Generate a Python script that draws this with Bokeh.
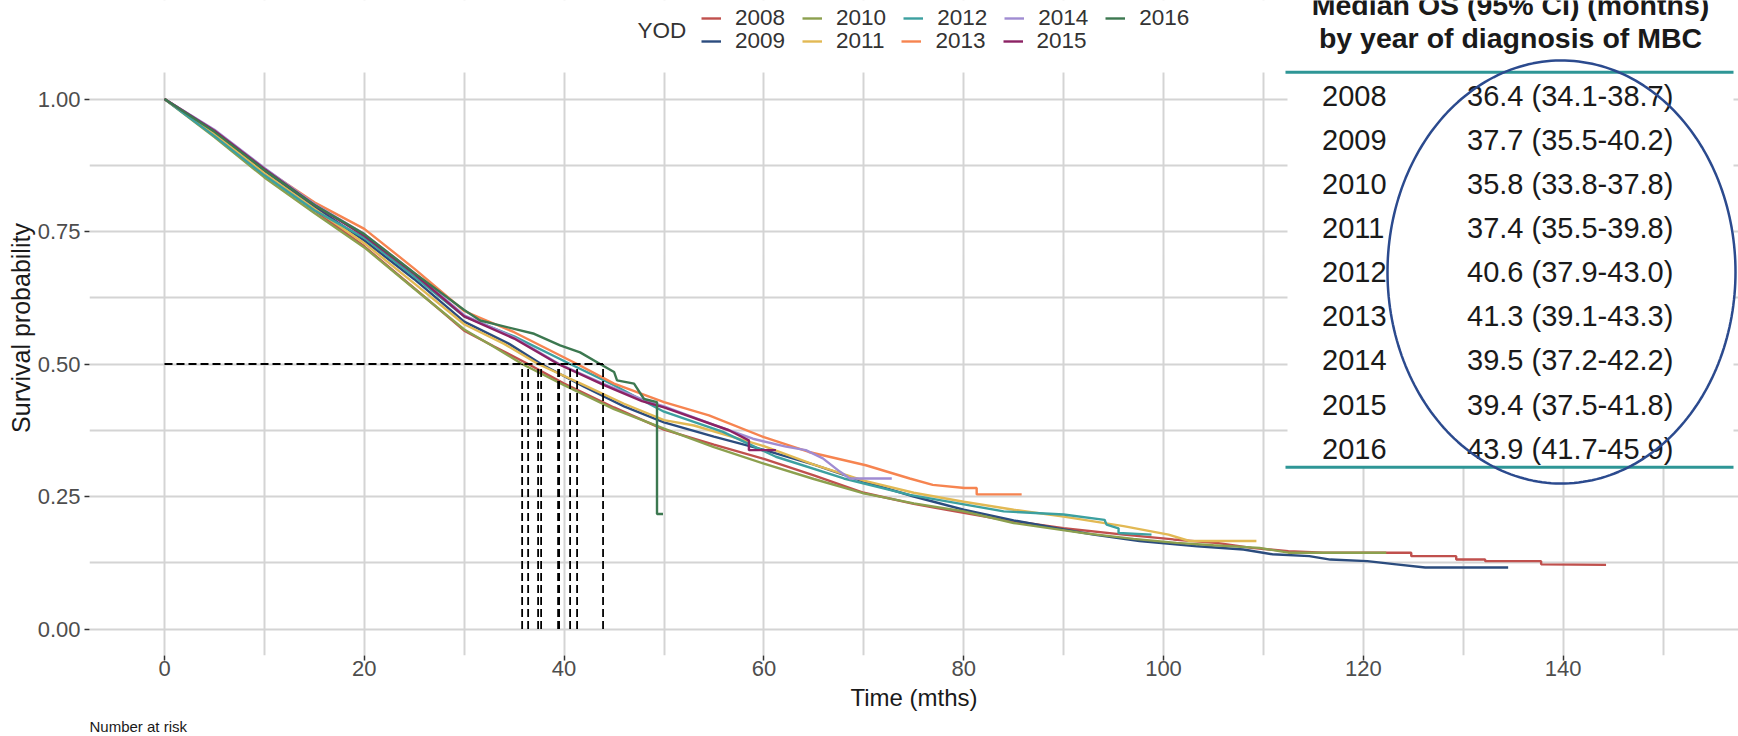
import numpy as np
from bokeh.plotting import figure
from bokeh.models import (Range1d, FixedTicker, NumeralTickFormatter, Legend, LegendItem,
                          Label, BoxAnnotation, PolyAnnotation, Title)
from bokeh.embed import file_html
from bokeh.resources import INLINE

# ---------------- data ----------------
years = ["2008", "2009", "2010", "2011", "2012", "2013", "2014", "2015", "2016"]

t_2008 = [0, 5, 10, 15, 20, 25, 30, 33, 36.4, 40, 45, 50, 55, 60, 65, 70, 75, 80, 84, 90, 96, 101, 105.5,
          108.8, 112.5, 116, 124.8, 124.8, 129.3, 129.3, 132.2, 132.2, 137.8, 137.8, 144.3]
s_2008 = [1, .932, .858, .79, .722, .643, .563, .533, .5, .463, .418, .376, .348, .321, .29, .257, .236, .219,
          .206, .19, .178, .169, .162, .153, .147, .144, .144, .1375, .1375, .131, .131, .128, .128, .122, .121]

t_2009 = [0, 5, 10, 15, 20, 25, 30, 34.5, 37.7, 42, 46, 50, 55, 60, 65, 70, 75, 80, 85, 89.3, 93, 97.6,
          103.4, 108, 110.9, 114.6, 116.7, 120.4, 123.3, 126.2, 134.5]
s_2009 = [1, .936, .864, .797, .733, .66, .58, .538, .5, .457, .42, .39, .363, .338, .31, .278, .25, .225,
          .205, .19, .178, .166, .156, .15, .141, .1375, .131, .128, .122, .116, .116]

t_2010 = [0, 5, 10, 15, 20, 25, 30, 33, 35.8, 40, 45, 50, 55, 60, 65, 70, 75, 80, 85, 92, 97, 101.3,
          105, 109.6, 112.5, 122.3]
s_2010 = [1, .928, .852, .785, .72, .642, .565, .532, .5, .46, .415, .378, .343, .312, .283, .256, .237,
          .222, .2, .181, .17, .1625, .158, .153, .144, .144]

t_2011 = [0, 5, 10, 15, 20, 25, 30, 34, 37.4, 42, 46, 50, 53, 60, 65, 70, 75, 80, 85, 90, 96, 100.5,
          102.6, 109.3]
s_2011 = [1, .934, .86, .793, .728, .652, .575, .538, .5, .46, .425, .394, .384, .345, .31, .28, .257, .24,
          .225, .212, .194, .178, .166, .166]

t_2012 = [0, 5, 10, 15, 20, 25, 30, 35, 40.6, 45, 50, 55.9, 61.2, 68, 74.6, 81.3, 84, 90, 94.1, 94.3,
          95.5, 95.5, 98.8]
s_2012 = [1, .93, .856, .79, .738, .665, .59, .552, .5, .46, .41, .372, .325, .284, .253, .231, .222, .216,
          .206, .197, .19, .181, .178]

t_2013 = [0, 5, 10, 15, 20, 25, 30, 35, 41.3, 45, 50, 54.5, 60, 64.5, 70.2, 74.6, 76.9, 80.1, 81.3,
          81.3, 85.8]
s_2013 = [1, .94, .868, .805, .755, .68, .6, .56, .5, .463, .428, .403, .362, .334, .309, .284, .272, .266,
          .266, .254, .254]

t_2014 = [0, 5, 10, 15, 20, 25, 30, 35, 39.5, 44, 48, 50, 55, 58.9, 62.2, 64.2, 65.9, 67.6, 68.6, 72.8]
s_2014 = [1, .942, .87, .802, .745, .672, .592, .55, .5, .462, .432, .42, .385, .359, .344, .3375, .322,
          .297, .284, .284]

t_2015 = [0, 5, 10, 15, 20, 25, 30, 35, 39.4, 44, 47.8, 50, 56.5, 58.5, 58.5, 61.2]
s_2015 = [1, .94, .868, .8, .742, .67, .59, .548, .5, .46, .43, .418, .375, .356, .3375, .3375]

t_2016 = [0, 5, 10, 15, 20, 25, 30, 31.6, 37, 39.6, 41.6, 43.6, 45, 45.3, 47, 48, 49.3, 49.3, 49.9]
s_2016 = [1, .938, .866, .8, .745, .672, .602, .582, .557, .535, .522, .5, .485, .469, .463, .434, .428,
          .217, .217]

median_os = [36.4, 37.7, 35.8, 37.4, 40.6, 41.3, 39.5, 39.4, 43.9]
ci_low = [34.1, 35.5, 33.8, 35.5, 37.9, 39.1, 37.2, 37.5, 41.7]
ci_high = [38.7, 40.2, 37.8, 39.8, 43.0, 43.3, 42.2, 41.8, 45.9]

x_ticks = [0, 20, 40, 60, 80, 100, 120, 140]
x_minor = [10, 30, 50, 70, 90, 110, 130, 150]
y_ticks = [0, 0.25, 0.5, 0.75, 1.0]
y_minor = [0.125, 0.375, 0.625, 0.875]

curves_t = [t_2008, t_2009, t_2010, t_2011, t_2012, t_2013, t_2014, t_2015, t_2016]
curves_s = [s_2008, s_2009, s_2010, s_2011, s_2012, s_2013, s_2014, s_2015, s_2016]

# ---------------- style / layout ----------------
colors = ["#C0504D", "#2B4C7E", "#8CA04E", "#E2B954", "#3CA0A0", "#F68450", "#A08CD2", "#8C2264", "#3C7850"]
FONT = "Liberation Sans"
W, H = 1738, 736
FRAME_LEFT, FRAME_BOTTOM = 89, 655
X0_PX, PX_PER_MONTH = 164.0, 9.99        # pixel of t=0, pixels per month
Y0_PX, PX_PER_UNIT = 628.5, 530.0        # pixel of S=0, pixels per unit survival


def tx(px):
    return (px - X0_PX) / PX_PER_MONTH


def sy(py):
    return (Y0_PX - py) / PX_PER_UNIT


p = figure(width=W, height=H, output_backend="svg", toolbar_location=None,
           x_range=Range1d(tx(FRAME_LEFT), tx(W)), y_range=Range1d(sy(FRAME_BOTTOM), sy(0)),
           min_border_left=FRAME_LEFT, min_border_right=0, min_border_top=0,
           min_border_bottom=H - FRAME_BOTTOM)
p.outline_line_color = None
p.background_fill_color = "white"

p.xaxis.ticker = FixedTicker(ticks=x_ticks, minor_ticks=x_minor)
p.yaxis.ticker = FixedTicker(ticks=y_ticks, minor_ticks=y_minor)
p.yaxis.formatter = NumeralTickFormatter(format="0.00")
p.yaxis.bounds = (-0.05, 1.05)
for g in (p.xgrid, p.ygrid):
    g.grid_line_color = "#d4d4d4"
    g.grid_line_width = 2
    g.minor_grid_line_color = "#d4d4d4"
    g.minor_grid_line_width = 2
for ax in (p.xaxis, p.yaxis):
    ax.axis_line_color = None
    ax.minor_tick_line_color = None
    ax.major_tick_out = 5
    ax.major_tick_in = 0
    ax.major_tick_line_color = "#333333"
    ax.major_tick_line_width = 1.5
    ax.major_label_text_font = FONT
    ax.major_label_text_font_size = "22px"
    ax.major_label_text_color = "#4d4d4d"
    ax.axis_label_text_font = FONT
    ax.axis_label_text_font_style = "normal"
    ax.axis_label_text_color = "#1a1a1a"
p.xaxis.axis_label = "Time (mths)"
p.yaxis.axis_label = "Survival probability"
p.xaxis.axis_label_text_font_size = "24px"
p.yaxis.axis_label_text_font_size = "25px"
p.xaxis.major_label_standoff = 0
p.yaxis.major_label_standoff = 4
p.xaxis.axis_label_standoff = 5
p.yaxis.axis_label_standoff = 0

renderers = []
for yr, tt, ss, c in zip(years, curves_t, curves_s, colors):
    renderers.append(p.line(tt, ss, line_color=c, line_width=2.4))

# median reference lines
p.segment(x0=[0], y0=[0.5], x1=[max(median_os)], y1=[0.5], line_color="black", line_width=1.8,
          line_dash="8 4")
p.segment(x0=median_os, y0=[0] * len(median_os), x1=median_os, y1=[0.5] * len(median_os),
          line_color="black", line_width=1.8, line_dash="8 4")

# white area above the panel (hides grid there) and the table panel
p.add_layout(BoxAnnotation(bottom=1.05, fill_color="white", fill_alpha=1, line_color=None))
p.add_layout(BoxAnnotation(left=tx(1287), right=tx(1733), bottom=sy(467), fill_color="white",
                           fill_alpha=1, line_color=None))

# legend (two rows)
leg_kw = dict(orientation="horizontal", padding=0, margin=0, spacing=17, glyph_width=20, glyph_height=24,
              label_standoff=14, label_height=24, label_text_font=FONT, label_text_font_size="22.5px",
              label_text_color="#333333", background_fill_alpha=0, border_line_alpha=0)
leg1 = Legend(items=[LegendItem(label=years[i], renderers=[renderers[i]]) for i in range(0, 9, 2)],
              location=(701 - FRAME_LEFT, FRAME_BOTTOM - 31), **leg_kw)
leg2 = Legend(items=[LegendItem(label=years[i], renderers=[renderers[i]]) for i in range(1, 9, 2)],
              location=(701 - FRAME_LEFT, FRAME_BOTTOM - 53.5), **leg_kw)
p.add_layout(leg1)
p.add_layout(leg2)
p.add_layout(Label(x=tx(637), y=sy(30), text="YOD", text_font=FONT, text_font_size="22.5px",
                   text_color="#333333", text_baseline="middle", text_align="left"))

teal = "#2E9696"
p.add_layout(BoxAnnotation(left=tx(1285), right=tx(1733), bottom=sy(73.3), top=sy(70.3), fill_color=teal,
                           fill_alpha=1, line_color=None))
p.add_layout(BoxAnnotation(left=tx(1285), right=tx(1733), bottom=sy(468.3), top=sy(465.3),
                           fill_color=teal, fill_alpha=1, line_color=None))
p.add_layout(Label(x=tx(1510), y=sy(4), text="Median OS (95% CI) (months)", text_font=FONT,
                   text_font_size="28.5px", text_font_style="bold", text_color="#1a1a1a",
                   text_align="center", text_baseline="middle"))
p.add_layout(Label(x=tx(1510), y=sy(37), text="by year of diagnosis of MBC", text_font=FONT,
                   text_font_size="28.5px", text_font_style="bold", text_color="#1a1a1a",
                   text_align="center", text_baseline="middle"))
for i, yr in enumerate(years):
    yc = sy(95 + 44.16 * i)
    p.add_layout(Label(x=tx(1321.5), y=yc, text=yr, text_font=FONT, text_font_size="29px",
                       text_color="#1a1a1a", text_baseline="middle", text_align="left"))
    p.add_layout(Label(x=tx(1466.5), y=yc,
                       text=f"{median_os[i]:.1f} ({ci_low[i]:.1f}-{ci_high[i]:.1f})",
                       text_font=FONT, text_font_size="29px", text_color="#1a1a1a",
                       text_baseline="middle", text_align="left"))

# highlight ellipse
th = np.linspace(0, 2 * np.pi, 240)
ecx, ecy = tx(1561), sy(271.5)
erx, ery = 174 / PX_PER_MONTH, 211.5 / PX_PER_UNIT
p.add_layout(PolyAnnotation(xs=list(ecx + erx * np.cos(th)), ys=list(ecy + ery * np.sin(th)),
                            fill_alpha=0, line_color="#2B4A8E", line_alpha=1, line_width=2.5))

p.add_layout(Title(text="Number at risk", align="left", text_font=FONT, text_font_size="15px",
                   text_font_style="normal", text_color="#1a1a1a", standoff=4), "below")

open("out.html", "w").write(file_html(p, INLINE))
